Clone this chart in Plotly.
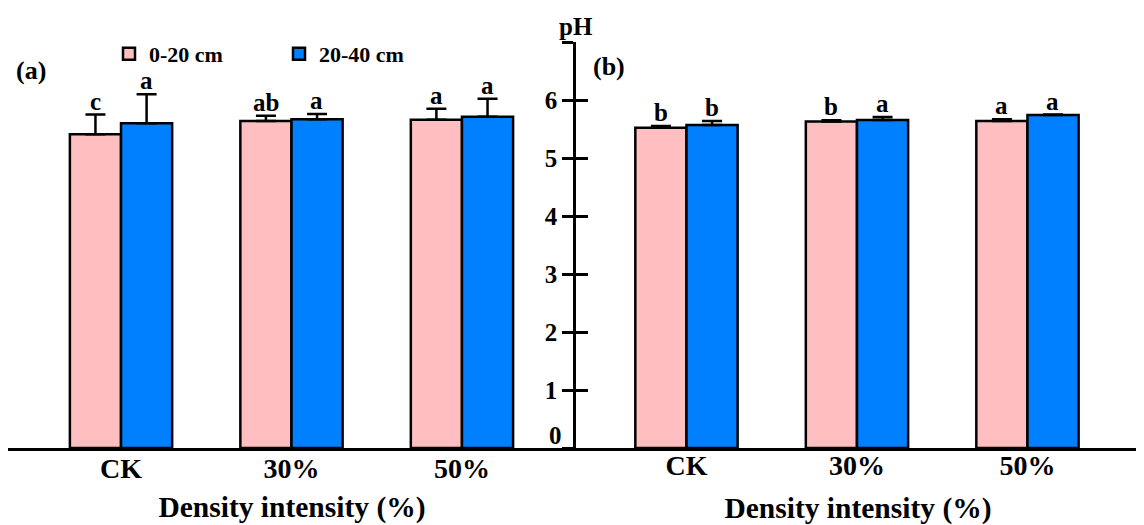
import plotly.graph_objects as go

categories = ["CK", "30%", "50%"]
series_names = ["0-20 cm", "20-40 cm"]

a_0_20 = [5.41, 5.64, 5.66]
a_0_20_err = [0.34, 0.09, 0.19]
a_0_20_sig = ["c", "ab", "a"]
a_20_40 = [5.60, 5.67, 5.71]
a_20_40_err = [0.50, 0.09, 0.31]
a_20_40_sig = ["a", "a", "a"]

b_0_20 = [5.52, 5.63, 5.64]
b_0_20_err = [0.03, 0.02, 0.03]
b_0_20_sig = ["b", "b", "a"]
b_20_40 = [5.57, 5.655, 5.74]
b_20_40_err = [0.07, 0.05, 0.01]
b_20_40_sig = ["b", "a", "a"]

y_tick_vals = [0, 1, 2, 3, 4, 5, 6, 7]
y_tick_text = ["", "1", "2", "3", "4", "5", "6", ""]

PINK = "#FFBFC0"
BLUE = "#0080FF"
FONT = "Liberation Serif"

# the page body has an 8px margin; figure is sized/placed to compensate
OFF = 8
W, H = 1144 - OFF, 525 - OFF
TOP, BOT = 42, 448  # screen pixel rows of y=7 and y=0


def px(sx):
    return (sx - OFF) / W


def py(sy):
    return (BOT - sy) / (BOT - TOP)


def f(size):
    return dict(family=FONT, size=size, color="black", weight="bold")


fig = go.Figure()


def add_bars(vals, errs, color, name, xa, show):
    fig.add_trace(go.Bar(
        x=categories, y=vals, name=name, xaxis=xa, yaxis="y",
        marker=dict(color=color, line=dict(color="black", width=2.5)),
        error_y=dict(type="data", array=errs, arrayminus=[0] * len(errs), symmetric=False,
                     color="black", thickness=2.5, width=10),
        showlegend=show, offsetgroup=name, legendgroup=name,
    ))


add_bars(a_0_20, a_0_20_err, PINK, series_names[0], "x", True)
add_bars(a_20_40, a_20_40_err, BLUE, series_names[1], "x", True)
add_bars(b_0_20, b_0_20_err, PINK, series_names[0], "x2", False)
add_bars(b_20_40, b_20_40_err, BLUE, series_names[1], "x2", False)

# empty trace so the overlay axis (inner tick halves) is drawn
fig.add_trace(go.Scatter(x=[], y=[], xaxis="x2", yaxis="y2", showlegend=False, hoverinfo="skip"))

annotations = []


def add_letters(vals, errs, sig, xref, shift):
    for c, v, e, s in zip(categories, vals, errs, sig):
        annotations.append(dict(x=c, y=v + e, xref=xref, yref="y", text=s, showarrow=False,
                                xshift=shift, xanchor="center", yanchor="bottom", yshift=-2,
                                font=f(25)))


add_letters(a_0_20, a_0_20_err, a_0_20_sig, "x", -25.5)
add_letters(a_20_40, a_20_40_err, a_20_40_sig, "x", 25.5)
add_letters(b_0_20, b_0_20_err, b_0_20_sig, "x2", -25.5)
add_letters(b_20_40, b_20_40_err, b_20_40_sig, "x2", 25.5)

annotations += [
    dict(x=px(31), y=py(70), xref="paper", yref="paper", text="(a)", showarrow=False,
         xanchor="center", yanchor="middle", font=f(26)),
    dict(x=px(609), y=py(66), xref="paper", yref="paper", text="(b)", showarrow=False,
         xanchor="center", yanchor="middle", font=f(26)),
    dict(x=px(576), y=py(26), xref="paper", yref="paper", text="pH", showarrow=False,
         xanchor="center", yanchor="middle", font=f(25)),
    dict(x=px(576), y=0, xref="paper", yref="y", text="0", showarrow=False, xanchor="right",
         yanchor="middle", xshift=-12, yshift=13, font=f(25)),
]

axis_common = dict(
    type="category", showline=True, linecolor="black", linewidth=2.5, ticks="",
    showgrid=False, zeroline=False, tickfont=f(28), automargin=False,
)

fig.update_layout(
    width=W, height=H,
    margin=dict(l=0, r=0, t=TOP - OFF, b=H - (BOT - OFF)),
    paper_bgcolor="white", plot_bgcolor="white",
    barmode="group", bargap=0.4, bargroupgap=0,
    xaxis=dict(domain=[px(8), px(576)], range=[-0.663, 2.669], anchor="y", ticklabelstandoff=-6,
               title=dict(text="Density intensity (%)", font=f(29.5), standoff=14), **axis_common),
    xaxis2=dict(domain=[px(576), px(1140)], range=[-0.648, 2.660], anchor="y", ticklabelstandoff=-9,
                title=dict(text="Density intensity (%)", font=f(29.5), standoff=33), **axis_common),
    yaxis=dict(range=[0, 7], anchor="x2", showline=True, linecolor="black", linewidth=2.5,
               ticks="outside", ticklen=11, tickwidth=2.5, tickcolor="black",
               tickvals=y_tick_vals, ticktext=y_tick_text, tickfont=f(25),
               showgrid=False, zeroline=False, ticklabelstandoff=0, automargin=False),
    yaxis2=dict(range=[0, 7], anchor="x2", overlaying="y", showline=False,
                ticks="inside", ticklen=12, tickwidth=2.5, tickcolor="black",
                tickvals=y_tick_vals[1:], showticklabels=False, showgrid=False,
                zeroline=False, automargin=False),
    legend=dict(orientation="h", x=px(109), y=py(54), xanchor="left", yanchor="middle",
                font=f(22), bgcolor="rgba(0,0,0,0)", entrywidth=125, entrywidthmode="pixels",
                traceorder="normal"),
    annotations=annotations,
)

fig.write_html("out.html")
